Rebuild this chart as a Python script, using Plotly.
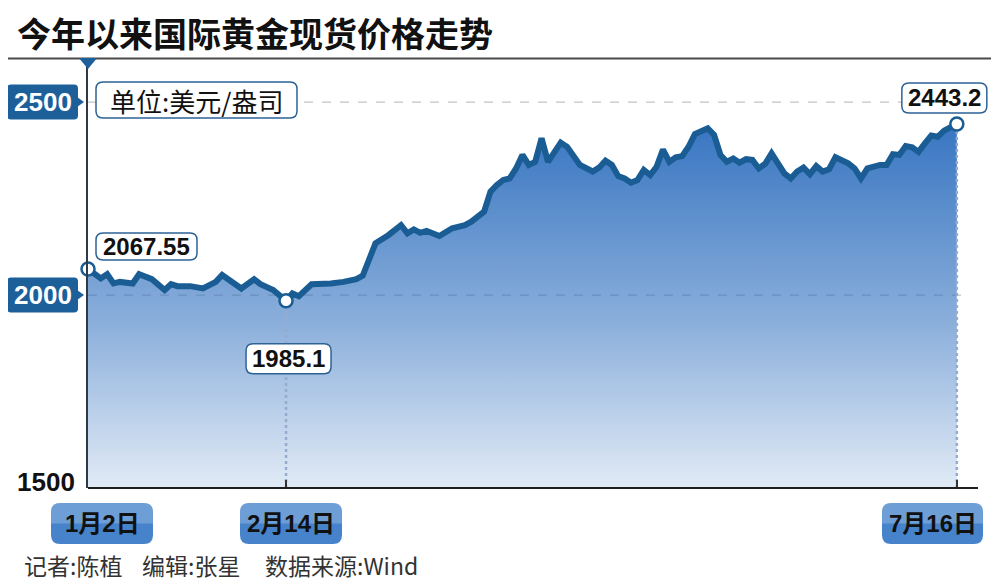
import plotly.graph_objects as go

# ── data ─────────────────────────────────────────────────────────────────────

TITLE = "今年以来国际黄金现货价格走势"
UNIT_NOTE = "单位:美元/盎司"
CREDITS = ["记者:陈植", "编辑:张星", "数据来源:Wind"]

# trading-day number, 2 Jan = 0 ... 16 Jul = 136
DAY = [
    0, 2, 3, 4, 5, 7, 8, 10, 12, 13, 14, 16, 18, 20, 21, 22, 24, 26, 27, 29,
    31, 32, 33, 35, 36, 38, 40, 42, 43, 45, 47, 49, 50, 51, 52, 53, 55, 57, 59,
    60, 62, 63, 64, 65, 66, 67, 68, 69, 70, 71, 72, 73, 74, 75, 77, 79, 80, 81,
    82, 83, 84, 85, 86, 87, 88, 89, 90, 91, 92, 93, 94, 95, 97, 98, 99, 100,
    101, 102, 103, 104, 105, 106, 107, 109, 110, 111, 112, 113, 114, 115, 116,
    117, 119, 120, 121, 122, 124, 125, 126, 127, 128, 129, 130, 131, 132, 133,
    134, 136,
]
# spot gold, USD/oz
PRICE = [
    2067.55, 2043, 2054, 2030, 2034, 2030, 2054, 2041, 2013, 2028, 2023, 2023,
    2017, 2034, 2052, 2041, 2017, 2041, 2028, 2013,
    1985.1, 2004, 1997, 2028, 2028, 2030, 2034, 2041, 2050, 2134, 2155, 2181,
    2160, 2170, 2161, 2166, 2153, 2173, 2181,
    2190, 2216, 2268, 2285, 2298, 2302, 2328, 2363, 2337, 2345, 2406, 2345,
    2367, 2395, 2384, 2337, 2320, 2330, 2348,
    2337, 2308, 2302, 2291, 2298, 2324, 2311, 2332, 2377, 2345, 2357, 2360,
    2384, 2417, 2432, 2415, 2363, 2345,
    2354, 2343, 2352, 2350, 2328, 2340, 2367, 2315, 2302, 2320, 2330, 2313,
    2334, 2320, 2326,
    2357, 2341, 2328, 2302, 2328, 2337, 2337, 2365, 2363, 2386, 2383, 2371,
    2393, 2413, 2410,
    2426, 2443.2,
]

X_TICK_DAYS = [0, 31, 136]
X_TICK_LABELS = ["1月2日", "2月14日", "7月16日"]
Y_TICKS = [1500, 2000, 2500]
Y_TICK_LABELS = ["1500", "2000", "2500"]
MARKED_DAYS = [0, 31, 136]

# ── look ─────────────────────────────────────────────────────────────────────

PAGE_W, PAGE_H = 999, 585
OFF = 8                         # default body margin of the html page
W, H = PAGE_W - OFF, PAGE_H - OFF
L, T, B = 88, 65, 488           # plot area, page pixels
PW, PH = PAGE_W - L, B - T
X_MAX = 142.6
Y_MAX = 2596

LINE_BLUE = "#1a5c94"
TAG_BLUE = "#1d5f99"
BORDER_BLUE = "#2d6296"
NUM_FONT = "Liberation Sans, Arial, Noto Sans CJK SC, sans-serif"
CJK_FONT = "Noto Sans CJK SC, sans-serif"

# value-tag boxes, pixel offsets from the point (x0, x1, y0, y1), y up
VALUE_BOX = [(8, 109, 9, 36), (-40, 45, -73, -43), (-55, 30, 11, 41)]
# date-tag boxes, page pixels (x0, x1)
DATE_BOX = [(51, 153), (240, 342), (882, 983)]
DATE_BOX_Y = (503, 544)


def fx(px):
    return (px - L) / PW


def fy(py):
    return (B - py) / PH


def rounded(x0, y0, x1, y1, rx, ry, top_only=False):
    """SVG path of a box with rounded corners; y0 is the bottom edge."""
    f = lambda v: f"{v:.5f}"
    if top_only:
        return (f"M {f(x0)},{f(y0)} L {f(x1)},{f(y0)} L {f(x1)},{f(y1 - ry)} "
                f"Q {f(x1)},{f(y1)} {f(x1 - rx)},{f(y1)} L {f(x0 + rx)},{f(y1)} "
                f"Q {f(x0)},{f(y1)} {f(x0)},{f(y1 - ry)} Z")
    return (f"M {f(x0 + rx)},{f(y0)} L {f(x1 - rx)},{f(y0)} "
            f"Q {f(x1)},{f(y0)} {f(x1)},{f(y0 + ry)} L {f(x1)},{f(y1 - ry)} "
            f"Q {f(x1)},{f(y1)} {f(x1 - rx)},{f(y1)} L {f(x0 + rx)},{f(y1)} "
            f"Q {f(x0)},{f(y1)} {f(x0)},{f(y1 - ry)} L {f(x0)},{f(y0 + ry)} "
            f"Q {f(x0)},{f(y0)} {f(x0 + rx)},{f(y0)} Z")


def page_box(x0, y0, x1, y1, r, top_only=False):
    """Rounded box given in page pixels (y down) -> paper path."""
    return rounded(fx(x0), fy(y1), fx(x1), fy(y0), r / PW, r / PH, top_only)


# ── figure ───────────────────────────────────────────────────────────────────

fig = go.Figure()

fig.add_trace(go.Scatter(
    x=DAY, y=PRICE, mode="lines", line=dict(width=0),
    fill="tozeroy",
    fillgradient=dict(
        type="vertical", start=Y_TICKS[0], stop=max(PRICE),
        colorscale=[[0, "rgba(45,110,190,0.14)"],
                    [0.45, "rgba(45,110,190,0.55)"],
                    [1, "rgba(45,110,190,0.95)"]],
    ),
    hoverinfo="skip", showlegend=False,
))

for d in MARKED_DAYS[1:]:
    p = PRICE[DAY.index(d)]
    fig.add_trace(go.Scatter(
        x=[d, d], y=[Y_TICKS[0], p], mode="lines",
        line=dict(color="#95acd0", width=2.5, dash="dot"),
        hoverinfo="skip", showlegend=False,
    ))

fig.add_trace(go.Scatter(
    x=DAY, y=PRICE, mode="lines",
    line=dict(color=LINE_BLUE, width=6),
    hoverinfo="skip", showlegend=False,
))

marked_prices = [PRICE[DAY.index(d)] for d in MARKED_DAYS]
fig.add_trace(go.Scatter(
    x=MARKED_DAYS, y=marked_prices, mode="markers",
    marker=dict(size=13, color="white", line=dict(color=LINE_BLUE, width=2.5)),
    hoverinfo="skip", showlegend=False, cliponaxis=False,
))

shapes = []
annotations = []

# title and rule under it
annotations.append(dict(
    text=f"<b>{TITLE}</b>", xref="paper", yref="paper", x=fx(16), y=fy(32),
    xanchor="left", yanchor="middle", showarrow=False, borderpad=0,
    font=dict(family=CJK_FONT, size=34, color="#111111"),
))
shapes.append(dict(type="line", xref="paper", yref="paper",
                   x0=fx(0), x1=fx(PAGE_W), y0=fy(58.5), y1=fy(58.5),
                   line=dict(color="#4a4a4a", width=2)))
shapes.append(dict(type="path", xref="paper", yref="paper",
                   path=f"M {fx(79)},{fy(58)} L {fx(97)},{fy(58)} L {fx(88)},{fy(69)} Z",
                   fillcolor=TAG_BLUE, line=dict(width=0)))

# dashed reference lines
for v in Y_TICKS[1:]:
    shapes.append(dict(type="line", xref="paper", yref="y", layer="below",
                       x0=0, x1=fx(965), y0=v, y1=v,
                       line=dict(color="#c4c4c4", width=1.2, dash="dash")))

# x axis line
shapes.append(dict(type="line", xref="paper", yref="paper",
                   x0=0, x1=fx(978), y0=0, y1=0,
                   line=dict(color="#1e1e1e", width=2)))

# y tick tags
for v, lab in zip(Y_TICKS, Y_TICK_LABELS):
    if v > Y_TICKS[0]:
        shapes.append(dict(type="path", xref="paper", yref="y",
                           ysizemode="pixel", yanchor=v,
                           path=rounded(fx(7), -17.5, fx(78), 17.5, 4 / PW, 4),
                           fillcolor=TAG_BLUE, line=dict(width=0)))
        shapes.append(dict(type="path", xref="paper", yref="y",
                           ysizemode="pixel", yanchor=v,
                           path=f"M {fx(77)},-5 L {fx(84)},0 L {fx(77)},5 Z",
                           fillcolor=TAG_BLUE, line=dict(width=0)))
        color, shift, xc = "white", 0, 43
    else:
        color, shift, xc = "#111111", 6, 46
    annotations.append(dict(
        text=f"<b>{lab}</b>", xref="paper", yref="y", x=fx(xc), y=v,
        yshift=shift, xanchor="center", yanchor="middle", showarrow=False,
        font=dict(family=NUM_FONT, size=26, color=color),
    ))

# unit note
shapes.append(dict(type="path", xref="paper", yref="paper",
                   path=page_box(96, 82, 297, 118, 7),
                   fillcolor="white", line=dict(color=BORDER_BLUE, width=1.5)))
annotations.append(dict(
    text=UNIT_NOTE, xref="paper", yref="paper", x=fx(196.5), y=fy(100),
    xanchor="center", yanchor="middle", showarrow=False,
    font=dict(family=CJK_FONT, size=26, color="#111111"),
))

# value tags on the marked points
for d, p, (x0, x1, y0, y1) in zip(MARKED_DAYS, marked_prices, VALUE_BOX):
    shapes.append(dict(type="path", xref="x", yref="y",
                       xsizemode="pixel", ysizemode="pixel", xanchor=d, yanchor=p,
                       path=rounded(x0, y0, x1, y1, 7, 7),
                       fillcolor="white", line=dict(color=BORDER_BLUE, width=1.5)))
    annotations.append(dict(
        text=f"<b>{p:g}</b>", xref="x", yref="y", x=d, y=p,
        xshift=(x0 + x1) / 2, yshift=(y0 + y1) / 2,
        xanchor="center", yanchor="middle", showarrow=False,
        font=dict(family=NUM_FONT, size=24, color="#111111"),
    ))

# date tags under the axis
for lab, (x0, x1) in zip(X_TICK_LABELS, DATE_BOX):
    y0, y1 = DATE_BOX_Y
    shapes.append(dict(type="path", xref="paper", yref="paper",
                       path=page_box(x0, y0, x1, y1, 9),
                       fillcolor="#4683cb", line=dict(width=0)))
    shapes.append(dict(type="path", xref="paper", yref="paper",
                       path=page_box(x0, y0, x1, (y0 + y1) / 2, 9, top_only=True),
                       fillcolor="rgba(255,255,255,0.22)", line=dict(width=0)))
    annotations.append(dict(
        text=f"<b>{lab}</b>", xref="paper", yref="paper",
        x=fx((x0 + x1) / 2), y=fy((y0 + y1) / 2),
        xanchor="center", yanchor="middle", showarrow=False,
        font=dict(family=NUM_FONT, size=24, color="#111111"),
    ))

# credits
for text, x in zip(CREDITS, [22, 140, 263]):
    annotations.append(dict(
        text=text, xref="paper", yref="paper", x=fx(x), y=fy(565),
        xanchor="left", yanchor="middle", showarrow=False,
        font=dict(family=CJK_FONT, size=23, color="#333333"),
    ))

fig.update_layout(
    width=W, height=H,
    margin=dict(l=L - OFF, r=0, t=T - OFF, b=PAGE_H - B, pad=0),
    paper_bgcolor="white", plot_bgcolor="white",
    showlegend=False, hovermode=False,
    shapes=shapes, annotations=annotations,
    xaxis=dict(
        range=[0, X_MAX], showgrid=False, zeroline=False, showline=False,
        tickvals=X_TICK_DAYS, ticks="inside", ticklen=8, tickwidth=1.5,
        tickcolor="#333333", showticklabels=False, fixedrange=True,
    ),
    yaxis=dict(
        range=[Y_TICKS[0], Y_MAX], showgrid=False, zeroline=False,
        showline=True, linecolor="#2f3a46", linewidth=2,
        tickvals=Y_TICKS, ticks="", showticklabels=False, fixedrange=True,
    ),
)

fig.write_html("out.html")
